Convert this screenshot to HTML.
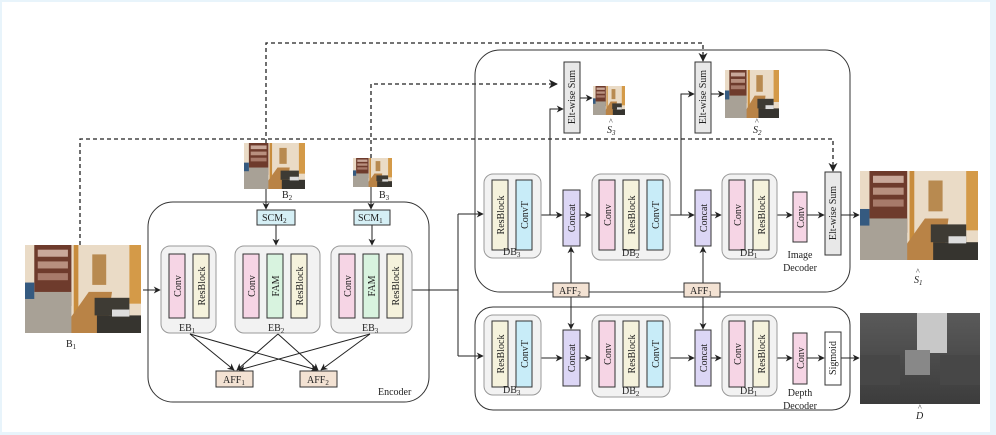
<!DOCTYPE html>
<html><head><meta charset="utf-8"><style>
html,body{margin:0;padding:0;background:#e8f4fb;}
svg{display:block;}
text{font-family:"Liberation Serif",serif;fill:#222;}
</style></head><body>
<svg width="996" height="435" viewBox="0 0 996 435" xmlns="http://www.w3.org/2000/svg">
<defs>
<marker id="a" viewBox="0 0 10 10" refX="9" refY="5" markerWidth="7" markerHeight="7" orient="auto"><path d="M0,0 L10,5 L0,10 L3,5 z" fill="#222"/></marker>
<symbol id="ph" viewBox="0 0 100 75" preserveAspectRatio="none">
<rect width="100" height="75" fill="#eadbc6"/>
<rect x="8" y="0" width="32" height="52" fill="#6e3b2c"/>
<rect x="11" y="4" width="26" height="6" fill="#c9a89a"/>
<rect x="11" y="14" width="26" height="6" fill="#b8907f"/>
<rect x="11" y="24" width="26" height="6" fill="#a77a6a"/>
<rect x="42" y="0" width="4" height="60" fill="#c88c3c"/>
<rect x="58" y="8" width="12" height="26" fill="#b88a50"/>
<rect x="90" y="0" width="10" height="50" fill="#d49a48"/>
<polygon points="30,75 55,40 75,40 70,75" fill="#b98346"/>
<rect x="0" y="40" width="40" height="35" fill="#a8a196"/>
<rect x="0" y="32" width="8" height="14" fill="#355a80"/>
<rect x="60" y="45" width="30" height="15" fill="#3e3b34"/>
<rect x="62" y="60" width="38" height="15" fill="#36342f"/>
<rect x="75" y="55" width="15" height="6" fill="#ddd"/>
</symbol>
<linearGradient id="dg" x1="0" y1="0" x2="0" y2="1"><stop offset="0" stop-color="#5a5a5a"/><stop offset="1" stop-color="#3c3c3c"/></linearGradient>
</defs>
<rect x="2" y="2" width="988" height="430" fill="#fff"/>

<!-- dashed -->
<g fill="none" stroke="#222" stroke-width="1.3" stroke-dasharray="4,3">
<polyline points="266,143 266,43 703,43 703,61" marker-end="url(#a)"/>
<polyline points="371,158 371,84 557,84" marker-end="url(#a)"/>
<polyline points="80,245 80,139 833,139 833,171" marker-end="url(#a)"/>
</g>

<!-- photos -->
<use href="#ph" x="25" y="245" width="116" height="88"/>
<use href="#ph" x="244" y="143" width="61" height="46"/>
<use href="#ph" x="353" y="158" width="39" height="29"/>
<use href="#ph" x="593" y="86" width="32" height="29"/>
<use href="#ph" x="725" y="70" width="54" height="48"/>
<use href="#ph" x="860" y="171" width="118" height="89"/>
<rect x="860" y="313" width="120" height="91" fill="url(#dg)"/>
<rect x="917" y="313" width="30" height="40" fill="#c8c8c8"/>
<rect x="905" y="350" width="25" height="25" fill="#888"/>
<rect x="940" y="355" width="40" height="30" fill="#474747"/>
<rect x="860" y="355" width="40" height="30" fill="#474747"/>

<g font-size="10">
<text x="66" y="347">B<tspan font-size="7" dy="2">1</tspan></text>
<text x="282" y="198">B<tspan font-size="7" dy="2">2</tspan></text>
<text x="379" y="198">B<tspan font-size="7" dy="2">3</tspan></text>
<text x="607" y="133" font-style="italic">S<tspan font-size="7" dy="2">3</tspan></text>
<text x="609" y="124" font-size="8">^</text>
<text x="753" y="133" font-style="italic">S<tspan font-size="7" dy="2">2</tspan></text>
<text x="755" y="124" font-size="8">^</text>
<text x="914" y="283" font-style="italic">S<tspan font-size="7" dy="2">1</tspan></text>
<text x="916" y="274" font-size="8">^</text>
<text x="916" y="419" font-style="italic">D</text>
<text x="918" y="410" font-size="8">^</text>
</g>

<!-- Encoder -->
<rect x="148" y="202" width="281" height="200" rx="25" fill="none" stroke="#333" stroke-width="1"/>
<text x="378" y="395" font-size="10">Encoder</text>
<g stroke="#222" stroke-width="1" fill="none">
<line x1="266" y1="189" x2="266" y2="209" marker-end="url(#a)"/>
<line x1="371" y1="187" x2="371" y2="209" marker-end="url(#a)"/>
<line x1="276" y1="225" x2="276" y2="245" marker-end="url(#a)"/>
<line x1="372" y1="225" x2="372" y2="245" marker-end="url(#a)"/>
<line x1="143" y1="290" x2="160" y2="290" marker-end="url(#a)"/>
<line x1="190" y1="334" x2="234" y2="370" marker-end="url(#a)"/>
<line x1="190" y1="334" x2="317" y2="370" marker-end="url(#a)"/>
<line x1="278" y1="334" x2="237" y2="370" marker-end="url(#a)"/>
<line x1="278" y1="334" x2="318" y2="370" marker-end="url(#a)"/>
<line x1="370" y1="334" x2="239" y2="370" marker-end="url(#a)"/>
<line x1="370" y1="334" x2="321" y2="370" marker-end="url(#a)"/>
<polyline points="412,290 458,290"/>
<polyline points="458,214 458,356"/>
<line x1="458" y1="214" x2="483" y2="214" marker-end="url(#a)"/>
<line x1="458" y1="356" x2="483" y2="356" marker-end="url(#a)"/>
</g>
<g stroke="#333" stroke-width="1">
<rect x="257" y="210" width="38" height="15" fill="#d5eff5"/>
<rect x="354" y="210" width="36" height="15" fill="#d5eff5"/>
<rect x="161" y="246" width="55" height="87" rx="9" fill="#f2f2f2" stroke="#999"/>
<rect x="235" y="246" width="85" height="87" rx="9" fill="#f2f2f2" stroke="#999"/>
<rect x="331" y="246" width="81" height="87" rx="9" fill="#f2f2f2" stroke="#999"/>
<rect x="169" y="254" width="16" height="64" fill="#f6d5e5"/>
<rect x="193" y="254" width="16" height="64" fill="#f5f2dc"/>
<rect x="243" y="254" width="16" height="64" fill="#f6d5e5"/>
<rect x="267" y="254" width="16" height="64" fill="#d8f3df"/>
<rect x="291" y="254" width="16" height="64" fill="#f5f2dc"/>
<rect x="339" y="254" width="16" height="64" fill="#f6d5e5"/>
<rect x="363" y="254" width="16" height="64" fill="#d8f3df"/>
<rect x="387" y="254" width="16" height="64" fill="#f5f2dc"/>
<rect x="216" y="371" width="37" height="16" fill="#f3e2d3"/>
<rect x="300" y="371" width="37" height="16" fill="#f3e2d3"/>
</g>
<g font-size="10">
<text x="262" y="221">SCM<tspan font-size="7" dy="2">2</tspan></text>
<text x="358" y="221">SCM<tspan font-size="7" dy="2">1</tspan></text>
<text x="179" y="331">EB<tspan font-size="7" dy="2">1</tspan></text>
<text x="268" y="331">EB<tspan font-size="7" dy="2">2</tspan></text>
<text x="362" y="331">EB<tspan font-size="7" dy="2">3</tspan></text>
<text x="223" y="383">AFF<tspan font-size="7" dy="2">1</tspan></text>
<text x="307" y="383">AFF<tspan font-size="7" dy="2">2</tspan></text>
<g text-anchor="middle">
<text transform="translate(181,286) rotate(-90)">Conv</text>
<text transform="translate(205,286) rotate(-90)">ResBlock</text>
<text transform="translate(255,286) rotate(-90)">Conv</text>
<text transform="translate(279,286) rotate(-90)">FAM</text>
<text transform="translate(303,286) rotate(-90)">ResBlock</text>
<text transform="translate(351,286) rotate(-90)">Conv</text>
<text transform="translate(375,286) rotate(-90)">FAM</text>
<text transform="translate(399,286) rotate(-90)">ResBlock</text>
</g></g>

<!-- Decoders -->
<rect x="475" y="50" width="375" height="242" rx="25" fill="none" stroke="#333"/>
<rect x="475" y="307" width="375" height="103" rx="18" fill="none" stroke="#333"/>
<g stroke="#222" stroke-width="1" fill="none">
<!-- upper -->
<line x1="541" y1="215" x2="562" y2="215" marker-end="url(#a)"/>
<polyline points="550,215 550,109 563,109" marker-end="url(#a)"/>
<line x1="580" y1="215" x2="591" y2="215" marker-end="url(#a)"/>
<line x1="670" y1="215" x2="694" y2="215" marker-end="url(#a)"/>
<polyline points="681,215 681,94 694,94" marker-end="url(#a)"/>
<line x1="711" y1="215" x2="721" y2="215" marker-end="url(#a)"/>
<line x1="777" y1="215" x2="792" y2="215" marker-end="url(#a)"/>
<line x1="807" y1="215" x2="824" y2="215" marker-end="url(#a)"/>
<line x1="841" y1="215" x2="859" y2="215" marker-end="url(#a)"/>
<line x1="580" y1="98" x2="592" y2="98" marker-end="url(#a)"/>
<line x1="711" y1="94" x2="724" y2="94" marker-end="url(#a)"/>
<!-- AFF -->
<line x1="571" y1="283" x2="571" y2="247" marker-end="url(#a)"/>
<line x1="571" y1="297" x2="571" y2="329" marker-end="url(#a)"/>
<line x1="703" y1="283" x2="703" y2="247" marker-end="url(#a)"/>
<line x1="703" y1="297" x2="703" y2="329" marker-end="url(#a)"/>
<!-- lower -->
<line x1="541" y1="358" x2="562" y2="358" marker-end="url(#a)"/>
<line x1="580" y1="358" x2="591" y2="358" marker-end="url(#a)"/>
<line x1="670" y1="358" x2="694" y2="358" marker-end="url(#a)"/>
<line x1="711" y1="358" x2="721" y2="358" marker-end="url(#a)"/>
<line x1="777" y1="358" x2="792" y2="358" marker-end="url(#a)"/>
<line x1="807" y1="358" x2="824" y2="358" marker-end="url(#a)"/>
<line x1="841" y1="358" x2="859" y2="358" marker-end="url(#a)"/>
</g>
<g stroke="#333" stroke-width="1">
<rect x="564" y="62" width="16" height="71" fill="#e8e8e8"/>
<rect x="695" y="62" width="16" height="71" fill="#e8e8e8"/>
<rect x="825" y="172" width="16" height="83" fill="#e8e8e8"/>
<rect x="825" y="332" width="16" height="53" fill="#fff"/>
<rect x="553" y="283" width="36" height="14" fill="#f3e2d3"/>
<rect x="684" y="283" width="36" height="14" fill="#f3e2d3"/>
<!-- upper row -->
<rect x="484" y="174" width="57" height="84" rx="9" fill="#f2f2f2" stroke="#999"/>
<rect x="592" y="174" width="78" height="86" rx="9" fill="#f2f2f2" stroke="#999"/>
<rect x="722" y="174" width="55" height="85" rx="9" fill="#f2f2f2" stroke="#999"/>
<rect x="492" y="180" width="16" height="70" fill="#f5f2dc"/>
<rect x="516" y="180" width="16" height="70" fill="#c8ecf8"/>
<rect x="563" y="190" width="17" height="56" fill="#dcd6f5"/>
<rect x="599" y="180" width="16" height="70" fill="#f6d5e5"/>
<rect x="623" y="180" width="16" height="70" fill="#f5f2dc"/>
<rect x="647" y="180" width="16" height="70" fill="#c8ecf8"/>
<rect x="695" y="190" width="16" height="56" fill="#dcd6f5"/>
<rect x="729" y="180" width="16" height="70" fill="#f6d5e5"/>
<rect x="753" y="180" width="16" height="70" fill="#f5f2dc"/>
<rect x="793" y="192" width="14" height="50" fill="#f6d5e5"/>
<!-- lower row -->
<rect x="484" y="315" width="57" height="80" rx="9" fill="#f2f2f2" stroke="#999"/>
<rect x="592" y="315" width="78" height="82" rx="9" fill="#f2f2f2" stroke="#999"/>
<rect x="722" y="315" width="55" height="81" rx="9" fill="#f2f2f2" stroke="#999"/>
<rect x="492" y="321" width="16" height="66" fill="#f5f2dc"/>
<rect x="516" y="321" width="16" height="66" fill="#c8ecf8"/>
<rect x="563" y="330" width="17" height="56" fill="#dcd6f5"/>
<rect x="599" y="321" width="16" height="66" fill="#f6d5e5"/>
<rect x="623" y="321" width="16" height="66" fill="#f5f2dc"/>
<rect x="647" y="321" width="16" height="66" fill="#c8ecf8"/>
<rect x="695" y="330" width="16" height="56" fill="#dcd6f5"/>
<rect x="729" y="321" width="16" height="66" fill="#f6d5e5"/>
<rect x="753" y="321" width="16" height="66" fill="#f5f2dc"/>
<rect x="793" y="333" width="14" height="51" fill="#f6d5e5"/>
</g>
<g font-size="10">
<text x="559" y="294">AFF<tspan font-size="7" dy="2">2</tspan></text>
<text x="690" y="294">AFF<tspan font-size="7" dy="2">1</tspan></text>
<text x="503" y="255">DB<tspan font-size="7" dy="2">3</tspan></text>
<text x="622" y="256">DB<tspan font-size="7" dy="2">2</tspan></text>
<text x="740" y="256">DB<tspan font-size="7" dy="2">1</tspan></text>
<text x="503" y="393">DB<tspan font-size="7" dy="2">3</tspan></text>
<text x="622" y="394">DB<tspan font-size="7" dy="2">2</tspan></text>
<text x="740" y="394">DB<tspan font-size="7" dy="2">1</tspan></text>
<g text-anchor="middle">
<text x="800" y="258">Image</text><text x="800" y="271">Decoder</text>
<text x="800" y="396">Depth</text><text x="800" y="409">Decoder</text>
<text transform="translate(575,97) rotate(-90)">Elt-wise Sum</text>
<text transform="translate(706,97) rotate(-90)">Elt-wise Sum</text>
<text transform="translate(836,213) rotate(-90)">Elt-wise Sum</text>
<text transform="translate(836,358) rotate(-90)">Sigmoid</text>
<text transform="translate(504,215) rotate(-90)">ResBlock</text>
<text transform="translate(528,215) rotate(-90)">ConvT</text>
<text transform="translate(575,218) rotate(-90)">Concat</text>
<text transform="translate(611,215) rotate(-90)">Conv</text>
<text transform="translate(635,215) rotate(-90)">ResBlock</text>
<text transform="translate(659,215) rotate(-90)">ConvT</text>
<text transform="translate(707,218) rotate(-90)">Concat</text>
<text transform="translate(741,215) rotate(-90)">Conv</text>
<text transform="translate(765,215) rotate(-90)">ResBlock</text>
<text transform="translate(804,217) rotate(-90)">Conv</text>
<text transform="translate(504,354) rotate(-90)">ResBlock</text>
<text transform="translate(528,354) rotate(-90)">ConvT</text>
<text transform="translate(575,358) rotate(-90)">Concat</text>
<text transform="translate(611,354) rotate(-90)">Conv</text>
<text transform="translate(635,354) rotate(-90)">ResBlock</text>
<text transform="translate(659,354) rotate(-90)">ConvT</text>
<text transform="translate(707,358) rotate(-90)">Concat</text>
<text transform="translate(741,354) rotate(-90)">Conv</text>
<text transform="translate(765,354) rotate(-90)">ResBlock</text>
<text transform="translate(804,358) rotate(-90)">Conv</text>
</g></g>
</svg>
</body></html>
